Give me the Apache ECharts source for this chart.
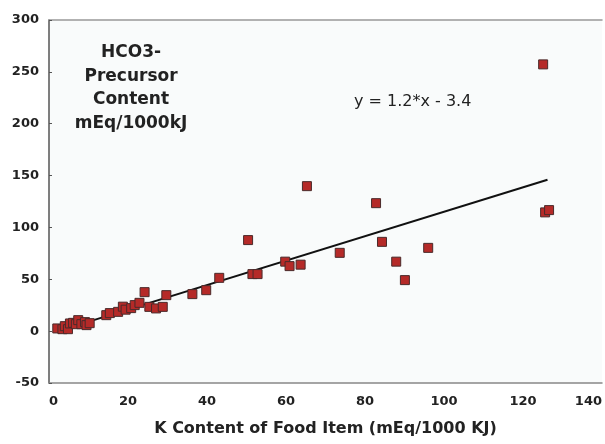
<!DOCTYPE html>
<html>
<head>
<meta charset="utf-8">
<script src="https://cdn.jsdelivr.net/npm/echarts@6/dist/echarts.min.js"></script>
<style>
  html, body { margin: 0; padding: 0; background: #ffffff; }
  #chart { width: 605px; height: 444px; }
</style>
</head>
<body>
<div id="chart"></div>
<script>
// K content of each food item (x) and HCO3- precursor content (y)
var kContent = [2.1, 3.4, 4.0, 4.8, 5.3, 6.1, 6.8, 7.4, 8.2, 9.1, 9.5, 10.3,
    14.5, 15.4, 17.5, 18.7, 19.4, 20.8, 21.7, 22.9, 24.2, 25.4, 27.1, 28.8, 29.7,
    36.3, 39.8, 43.1, 50.4, 51.5, 52.8, 59.8, 60.9, 63.7, 65.3, 73.6,
    82.8, 84.3, 87.9, 90.1, 96.0, 125.1, 125.6, 126.6];
var hco3Content = [2.6, 1.9, 4.8, 1.9, 7.4, 8.0, 6.7, 10.6, 6.7, 8.7, 5.8, 7.7,
    15.4, 17.4, 18.6, 23.6, 20.7, 22.2, 25.1, 27.3, 37.6, 23.4, 21.9, 23.4, 34.7,
    35.7, 39.5, 51.4, 87.8, 55.0, 55.0, 67.0, 62.7, 64.1, 139.8, 75.5,
    123.4, 86.1, 67.0, 49.2, 80.3, 257.2, 114.5, 116.7];

// end points of the fitted line y = 1.2*x - 3.4 as drawn
var fitX = [2.3, 126.2];
var fitY = [0, 146];

var fitLabel = 'y = 1.2*x - 3.4';
var yTitle = 'HCO3-\nPrecursor\nContent\nmEq/1000kJ';
var xTitle = 'K Content of Food Item (mEq/1000 KJ)';

var points = kContent.map(function(k, i) { return [k, hco3Content[i]]; });
var fitLine = fitX.map(function(x, i) { return [x, fitY[i]]; });

var font = 'DejaVu Sans';

var chart = echarts.init(document.getElementById('chart'));
chart.setOption({
    animation: false,
    backgroundColor: '#ffffff',
    grid: {
        left: 49, right: 0, top: 20, bottom: 61,
        show: true, backgroundColor: '#f9fbfb', borderWidth: 0
    },
    xAxis: [
        {
            type: 'value', min: 0, max: 140, interval: 20,
            name: xTitle, nameLocation: 'middle', nameGap: 38,
            nameTextStyle: { fontFamily: font, fontWeight: 'bold', fontSize: 16, color: '#222' },
            axisLine: { show: true, onZero: false, lineStyle: { color: '#888', width: 1.5 } },
            axisTick: { show: false },
            splitLine: { show: false },
            axisLabel: {
                fontFamily: font, fontWeight: 'bold', fontSize: 13, color: '#222', margin: 12,
                alignMinLabel: 'left', alignMaxLabel: 'right'
            }
        },
        {
            type: 'value', min: 0, max: 140, position: 'top',
            axisLine: { show: true, onZero: false, lineStyle: { color: '#999', width: 1.5 } },
            axisTick: { show: false }, axisLabel: { show: false }, splitLine: { show: false }
        }
    ],
    yAxis: {
        type: 'value', min: -50, max: 300, interval: 50,
        axisLine: { show: true, onZero: false, lineStyle: { color: '#555', width: 1.5 } },
        axisTick: { show: true, inside: true, length: 3, lineStyle: { color: '#555' } },
        splitLine: { show: false },
        axisLabel: { fontFamily: font, fontWeight: 'bold', fontSize: 13, color: '#222', margin: 10 }
    },
    graphic: [
        {
            type: 'text', x: 131, y: 41,
            style: {
                text: yTitle, fill: '#222', align: 'center', verticalAlign: 'top',
                font: 'bold 17px "DejaVu Sans"', lineHeight: 23.5
            }
        },
        {
            type: 'text', x: 354, y: 94,
            style: { text: fitLabel, fill: '#222', font: '16px "DejaVu Sans"', verticalAlign: 'top' }
        }
    ],
    series: [
        {
            type: 'line', data: fitLine, showSymbol: false, z: 2,
            lineStyle: { color: '#111', width: 2 }
        },
        {
            type: 'scatter', data: points, symbol: 'rect', symbolSize: 9, z: 3,
            itemStyle: { color: '#b52a28', borderColor: '#4a2a2a', borderWidth: 1, opacity: 1 }
        }
    ]
});
</script>
</body>
</html>
